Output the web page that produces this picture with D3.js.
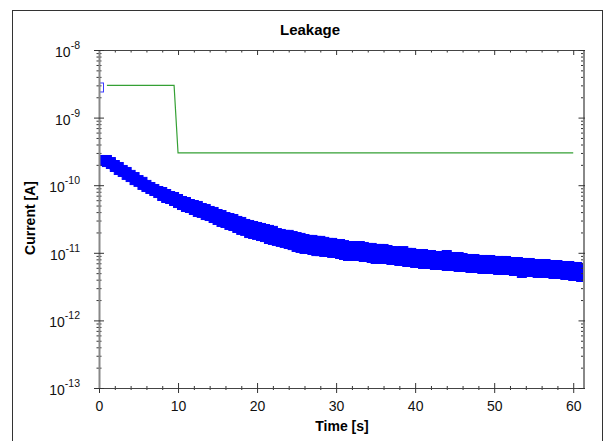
<!doctype html>
<html lang="en">
<head>
  <meta charset="utf-8">
  <script src="https://d3js.org/d3.v7.min.js"></script>
  <style>
    body { margin: 0; background: #fff; }
    svg { display: block; font-family: "Liberation Sans", Arial, sans-serif; }
  </style>
</head>
<body>
  <svg id="chart"></svg>
  <script>
    // leakage readings: time (s), upper and lower edge of the scatter at that time (A)
    const leakTime = [0, 0.5, 1, 1.5, 2, 2.5, 3, 3.5, 4, 4.5, 5, 5.5, 6, 6.5, 7, 7.5, 8, 8.5, 9, 9.5,
      10, 10.5, 11, 11.5, 12, 12.5, 13, 13.5, 14, 14.5, 15, 15.5, 16, 16.5, 17, 17.5, 18, 18.5, 19, 19.5,
      20, 20.5, 21, 21.5, 22, 22.5, 23, 23.5, 24, 24.5, 25, 25.5, 26, 26.5, 27, 27.5, 28, 28.5, 29, 29.5,
      30, 30.5, 31, 31.5, 32, 32.5, 33, 33.5, 34, 34.5, 35, 35.5, 36, 36.5, 37, 37.5, 38, 38.5, 39, 39.5,
      40, 40.5, 41, 41.5, 42, 42.5, 43, 43.5, 44, 44.5, 45, 45.5, 46, 46.5, 47, 47.5, 48, 48.5, 49, 49.5,
      50, 50.5, 51, 51.5, 52, 52.5, 53, 53.5, 54, 54.5, 55, 55.5, 56, 56.5, 57, 57.5, 58, 58.5, 59, 59.5,
      60, 60.5, 61, 61.5];
    const leakUpper = [2.79e-9, 2.36e-10, 2.36e-10, 2.20e-10, 1.99e-10, 1.86e-10, 1.68e-10, 1.57e-10, 1.42e-10, 1.32e-10, 1.19e-10, 1.12e-10, 1.01e-10, 9.40e-11, 8.79e-11, 8.21e-11, 7.93e-11, 7.41e-11, 6.92e-11, 6.69e-11,
      6.25e-11, 5.84e-11, 5.64e-11, 5.27e-11, 5.09e-11, 4.93e-11, 4.60e-11, 4.45e-11, 4.16e-11, 4.02e-11, 3.75e-11, 3.62e-11, 3.38e-11, 3.27e-11, 3.16e-11, 2.96e-11, 2.86e-11, 2.67e-11, 2.58e-11, 2.49e-11,
      2.41e-11, 2.33e-11, 2.25e-11, 2.18e-11, 2.11e-11, 1.96e-11, 1.90e-11, 1.84e-11, 1.84e-11, 1.77e-11, 1.71e-11, 1.66e-11, 1.60e-11, 1.55e-11, 1.55e-11, 1.50e-11, 1.50e-11, 1.45e-11, 1.40e-11, 1.40e-11,
      1.35e-11, 1.35e-11, 1.30e-11, 1.26e-11, 1.26e-11, 1.26e-11, 1.26e-11, 1.22e-11, 1.18e-11, 1.18e-11, 1.14e-11, 1.14e-11, 1.14e-11, 1.10e-11, 1.06e-11, 1.06e-11, 1.03e-11, 1.06e-11, 9.96e-12, 9.96e-12,
      9.60e-12, 9.60e-12, 9.60e-12, 9.28e-12, 9.28e-12, 8.97e-12, 8.97e-12, 8.97e-12, 9.28e-12, 8.67e-12, 8.67e-12, 8.67e-12, 8.38e-12, 8.10e-12, 8.10e-12, 8.10e-12, 7.83e-12, 7.83e-12, 7.83e-12, 7.83e-12,
      7.57e-12, 7.57e-12, 7.57e-12, 7.57e-12, 7.31e-12, 7.31e-12, 7.31e-12, 7.07e-12, 7.07e-12, 7.07e-12, 6.83e-12, 6.83e-12, 6.83e-12, 6.83e-12, 6.60e-12, 6.60e-12, 6.60e-12, 6.38e-12, 6.38e-12, 6.38e-12,
      6.17e-12, 6.17e-12, 5.96e-12, 5.96e-12];
    const leakLower = [2.36e-10, 2.28e-10, 2.20e-10, 2.06e-10, 1.86e-10, 1.68e-10, 1.57e-10, 1.42e-10, 1.32e-10, 1.19e-10, 1.12e-10, 1.01e-10, 9.40e-11, 8.79e-11, 8.21e-11, 7.66e-11, 6.92e-11, 6.47e-11, 6.25e-11, 5.84e-11,
      5.45e-11, 5.09e-11, 4.76e-11, 4.60e-11, 4.30e-11, 4.02e-11, 3.89e-11, 3.62e-11, 3.50e-11, 3.27e-11, 3.06e-11, 2.86e-11, 2.76e-11, 2.58e-11, 2.49e-11, 2.33e-11, 2.18e-11, 2.11e-11, 1.96e-11, 1.90e-11,
      1.84e-11, 1.77e-11, 1.71e-11, 1.60e-11, 1.55e-11, 1.50e-11, 1.45e-11, 1.40e-11, 1.35e-11, 1.30e-11, 1.22e-11, 1.18e-11, 1.14e-11, 1.14e-11, 1.10e-11, 1.06e-11, 1.06e-11, 1.03e-11, 1.03e-11, 9.96e-12,
      9.96e-12, 9.60e-12, 9.28e-12, 8.97e-12, 9.28e-12, 8.97e-12, 8.97e-12, 8.67e-12, 8.67e-12, 8.38e-12, 8.10e-12, 8.38e-12, 8.10e-12, 8.10e-12, 7.83e-12, 7.83e-12, 7.57e-12, 7.57e-12, 7.31e-12, 7.31e-12,
      7.07e-12, 7.07e-12, 6.83e-12, 6.83e-12, 6.83e-12, 6.60e-12, 6.60e-12, 6.60e-12, 6.38e-12, 6.38e-12, 6.38e-12, 6.17e-12, 6.17e-12, 6.17e-12, 5.96e-12, 5.96e-12, 5.96e-12, 5.76e-12, 5.76e-12, 5.76e-12,
      5.76e-12, 5.57e-12, 5.57e-12, 5.57e-12, 5.57e-12, 5.38e-12, 5.38e-12, 5.03e-12, 5.20e-12, 5.20e-12, 5.20e-12, 5.03e-12, 5.20e-12, 5.03e-12, 5.03e-12, 4.86e-12, 4.86e-12, 4.86e-12, 4.70e-12, 4.70e-12,
      4.54e-12, 4.54e-12, 4.39e-12, 4.39e-12];

    // compliance / limit line
    const limitTime = [1, 9.5, 10, 60];
    const limitCurrent = [3e-9, 3e-9, 3e-10, 3e-10];

    const xTicks = [0, 10, 20, 30, 40, 50, 60];
    const xMinorTicks = [2, 4, 6, 8, 12, 14, 16, 18, 22, 24, 26, 28, 32, 34, 36, 38, 42, 44, 46, 48, 52, 54, 56, 58];
    const yDecades = [1e-13, 1e-12, 1e-11, 1e-10, 1e-9, 1e-8];
    const yExponents = ["-13", "-12", "-11", "-10", "-9", "-8"];

    width = 605;
    height = 441;
    margin = ({top: 50, right: 21.5, bottom: 53, left: 99});

    const svg = d3.select("#chart")
      .attr("width", width)
      .attr("height", height);

    // outer frame
    svg.append("rect")
      .attr("x", 12.5).attr("y", 10.5)
      .attr("width", 590).attr("height", 440)
      .attr("fill", "none").attr("stroke", "#333");

    x = d3.scaleLinear()
      .domain([0, 61.3])
      .range([margin.left, width - margin.right]);

    y = d3.scaleLog()
      .domain([1e-13, 1e-8])
      .range([height - margin.bottom, margin.top]);

    const yMinor = y.ticks().filter(v => !yDecades.some(d => Math.abs(d - v) / d < 1e-6));

    svg.append("clipPath").attr("id", "plotClip")
      .append("rect")
      .attr("x", margin.left).attr("y", margin.top)
      .attr("width", width - margin.right - margin.left)
      .attr("height", height - margin.bottom - margin.top);

    // data
    const leak = leakTime.map((t, i) => ({t: t, v: leakUpper[i], first: i === 0}))
      .concat(leakTime.map((t, i) => ({t: t, v: leakLower[i], first: false})));
    const limit = limitTime.map((t, i) => ({t: t, v: limitCurrent[i]}));

    const plot = svg.append("g").attr("clip-path", "url(#plotClip)");

    plot.append("path")
      .datum(limit)
      .attr("fill", "none")
      .attr("stroke", "#34a034")
      .attr("stroke-width", 1.2)
      .attr("d", d3.line().x(d => x(d.t)).y(d => y(d.v)));

    plot.append("g")
      .selectAll("rect")
      .data(leak)
      .join("rect")
        .attr("x", d => x(d.t) - 4.5)
        .attr("y", d => y(d.v) - 4.5)
        .attr("width", 9)
        .attr("height", 9)
        .attr("fill", d => d.first ? "none" : "#0000ff")
        .attr("stroke", d => d.first ? "#3a3aff" : "#0000ff")
        .attr("stroke-width", 1);

    const tickColor = "#333";

    // bottom axis
    svg.append("g")
      .attr("transform", `translate(0,${height - margin.bottom})`)
      .call(d3.axisBottom(x).tickValues(xMinorTicks).tickSizeInner(2).tickSizeOuter(0).tickFormat(""))
      .call(g => g.selectAll(".tick line").attr("y1", -2).attr("stroke", tickColor))
      .call(g => g.select(".domain").remove());

    svg.append("g")
      .attr("transform", `translate(0,${height - margin.bottom})`)
      .call(d3.axisBottom(x).tickValues(xTicks).tickSizeInner(5).tickSizeOuter(0).tickPadding(8))
      .call(g => g.select(".domain").attr("stroke", "#444").attr("d", `M${margin.left - 4},0.5H${width - margin.right}`))
      .call(g => g.selectAll(".tick line").attr("y1", -5).attr("stroke", tickColor))
      .call(g => g.selectAll(".tick text")
        .attr("font-size", 14)
        .attr("fill", "#111")
        .attr("font-family", "Liberation Sans, Arial, sans-serif"));

    // top axis
    svg.append("g")
      .attr("transform", `translate(0,${margin.top})`)
      .call(d3.axisTop(x).tickValues(xMinorTicks).tickSizeInner(-2.5).tickSizeOuter(0).tickFormat(""))
      .call(g => g.selectAll(".tick line").attr("stroke", tickColor))
      .call(g => g.select(".domain").remove());

    svg.append("g")
      .attr("transform", `translate(0,${margin.top})`)
      .call(d3.axisTop(x).tickValues(xTicks).tickSizeInner(-5).tickSizeOuter(0).tickFormat(""))
      .call(g => g.selectAll(".tick line").attr("stroke", tickColor))
      .call(g => g.select(".domain").attr("stroke", "#444").attr("d", `M${margin.left - 4},0.5H${width - margin.right}`));

    // left axis
    svg.append("g")
      .attr("transform", `translate(${margin.left},0)`)
      .call(d3.axisLeft(y).tickValues(yMinor).tickSizeInner(2.5).tickSizeOuter(0).tickFormat(""))
      .call(g => g.selectAll(".tick line").attr("x1", 2.5).attr("stroke", tickColor))
      .call(g => g.select(".domain").remove());

    svg.append("g")
      .attr("transform", `translate(${margin.left},0)`)
      .call(d3.axisLeft(y).tickValues(yDecades).tickSizeInner(5).tickSizeOuter(0).tickFormat(""))
      .call(g => g.selectAll(".tick line").attr("x1", 5).attr("stroke", tickColor))
      .call(g => g.select(".domain").attr("stroke", "#888").attr("stroke-width", 2));

    // right axis
    svg.append("g")
      .attr("transform", `translate(${width - margin.right},0)`)
      .call(d3.axisRight(y).tickValues(yMinor).tickSizeInner(-2.5).tickSizeOuter(0).tickFormat(""))
      .call(g => g.selectAll(".tick line").attr("stroke", tickColor))
      .call(g => g.select(".domain").remove());

    svg.append("g")
      .attr("transform", `translate(${width - margin.right},0)`)
      .call(d3.axisRight(y).tickValues(yDecades).tickSizeInner(-5).tickSizeOuter(0).tickFormat(""))
      .call(g => g.selectAll(".tick line").attr("x1", 1.5).attr("stroke", tickColor))
      .call(g => g.select(".domain").attr("stroke", "#888").attr("stroke-width", 2));

    // y tick labels as 10^n
    const yLabels = svg.append("g")
      .attr("font-size", 14)
      .attr("fill", "#111")
      .attr("text-anchor", "end")
      .selectAll("text")
      .data(yDecades)
      .join("text")
        .attr("x", 80)
        .attr("y", d => y(d) + 7);
    yLabels.append("tspan").text("10");
    yLabels.append("tspan")
      .attr("dy", -8)
      .attr("font-size", 10.5)
      .text((d, i) => yExponents[i]);

    // title and axis labels
    svg.append("text")
      .attr("x", 310)
      .attr("y", 35)
      .attr("text-anchor", "middle")
      .attr("font-weight", "bold")
      .attr("font-size", 15)
      .text("Leakage");

    svg.append("text")
      .attr("x", 342)
      .attr("y", 431)
      .attr("text-anchor", "middle")
      .attr("font-weight", "bold")
      .attr("font-size", 14)
      .text("Time [s]");

    svg.append("text")
      .attr("transform", "translate(35,218) rotate(-90)")
      .attr("text-anchor", "middle")
      .attr("font-weight", "bold")
      .attr("font-size", 14)
      .text("Current [A]");
  </script>
</body>
</html>
